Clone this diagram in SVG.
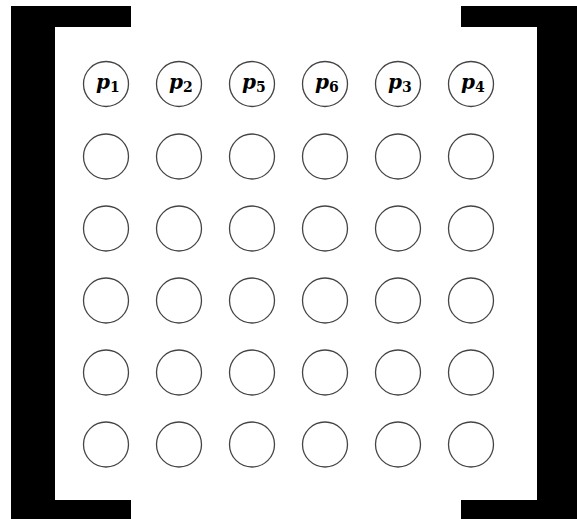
<svg xmlns="http://www.w3.org/2000/svg" width="577" height="519" viewBox="0 0 577 519">
<style>
.n{fill:#fff;stroke:#444;stroke-width:1.3}
.br{fill:#000}
.p{font-family:"DejaVu Serif","Liberation Serif",serif;font-weight:bold;font-size:20px;fill:#000}
.p tspan.s{font-style:normal;font-size:14px}
</style>
<rect width="577" height="519" fill="#fff"/>
<g id="bracket-left">
<path class="br" d="M11 6H131V27H55V500H131V519H11Z"/>
</g>
<g id="bracket-right">
<path class="br" d="M461 6H577V519H461V500H537V27H461Z"/>
</g>
<g id="connectors"></g>
<g id="n-1-1"><circle class="n" cx="106" cy="84" r="22.5"/><text class="p" x="96" y="89"><tspan font-style="italic">p</tspan><tspan class="s" dy="3">1</tspan></text></g>
<g id="n-1-2"><circle class="n" cx="179" cy="84" r="22.5"/><text class="p" x="169" y="89"><tspan font-style="italic">p</tspan><tspan class="s" dy="3">2</tspan></text></g>
<g id="n-1-3"><circle class="n" cx="252" cy="84" r="22.5"/><text class="p" x="242" y="89"><tspan font-style="italic">p</tspan><tspan class="s" dy="3">5</tspan></text></g>
<g id="n-1-4"><circle class="n" cx="325" cy="84" r="22.5"/><text class="p" x="315" y="89"><tspan font-style="italic">p</tspan><tspan class="s" dy="3">6</tspan></text></g>
<g id="n-1-5"><circle class="n" cx="398" cy="84" r="22.5"/><text class="p" x="388" y="89"><tspan font-style="italic">p</tspan><tspan class="s" dy="3">3</tspan></text></g>
<g id="n-1-6"><circle class="n" cx="471" cy="84" r="22.5"/><text class="p" x="461" y="89"><tspan font-style="italic">p</tspan><tspan class="s" dy="3">4</tspan></text></g>
<g id="n-2-1"><circle class="n" cx="106" cy="156.5" r="22.5"/></g>
<g id="n-2-2"><circle class="n" cx="179" cy="156.5" r="22.5"/></g>
<g id="n-2-3"><circle class="n" cx="252" cy="156.5" r="22.5"/></g>
<g id="n-2-4"><circle class="n" cx="325" cy="156.5" r="22.5"/></g>
<g id="n-2-5"><circle class="n" cx="398" cy="156.5" r="22.5"/></g>
<g id="n-2-6"><circle class="n" cx="471" cy="156.5" r="22.5"/></g>
<g id="n-3-1"><circle class="n" cx="106" cy="228.5" r="22.5"/></g>
<g id="n-3-2"><circle class="n" cx="179" cy="228.5" r="22.5"/></g>
<g id="n-3-3"><circle class="n" cx="252" cy="228.5" r="22.5"/></g>
<g id="n-3-4"><circle class="n" cx="325" cy="228.5" r="22.5"/></g>
<g id="n-3-5"><circle class="n" cx="398" cy="228.5" r="22.5"/></g>
<g id="n-3-6"><circle class="n" cx="471" cy="228.5" r="22.5"/></g>
<g id="n-4-1"><circle class="n" cx="106" cy="300.5" r="22.5"/></g>
<g id="n-4-2"><circle class="n" cx="179" cy="300.5" r="22.5"/></g>
<g id="n-4-3"><circle class="n" cx="252" cy="300.5" r="22.5"/></g>
<g id="n-4-4"><circle class="n" cx="325" cy="300.5" r="22.5"/></g>
<g id="n-4-5"><circle class="n" cx="398" cy="300.5" r="22.5"/></g>
<g id="n-4-6"><circle class="n" cx="471" cy="300.5" r="22.5"/></g>
<g id="n-5-1"><circle class="n" cx="106" cy="372.5" r="22.5"/></g>
<g id="n-5-2"><circle class="n" cx="179" cy="372.5" r="22.5"/></g>
<g id="n-5-3"><circle class="n" cx="252" cy="372.5" r="22.5"/></g>
<g id="n-5-4"><circle class="n" cx="325" cy="372.5" r="22.5"/></g>
<g id="n-5-5"><circle class="n" cx="398" cy="372.5" r="22.5"/></g>
<g id="n-5-6"><circle class="n" cx="471" cy="372.5" r="22.5"/></g>
<g id="n-6-1"><circle class="n" cx="106" cy="444.5" r="22.5"/></g>
<g id="n-6-2"><circle class="n" cx="179" cy="444.5" r="22.5"/></g>
<g id="n-6-3"><circle class="n" cx="252" cy="444.5" r="22.5"/></g>
<g id="n-6-4"><circle class="n" cx="325" cy="444.5" r="22.5"/></g>
<g id="n-6-5"><circle class="n" cx="398" cy="444.5" r="22.5"/></g>
<g id="n-6-6"><circle class="n" cx="471" cy="444.5" r="22.5"/></g>
</svg>
